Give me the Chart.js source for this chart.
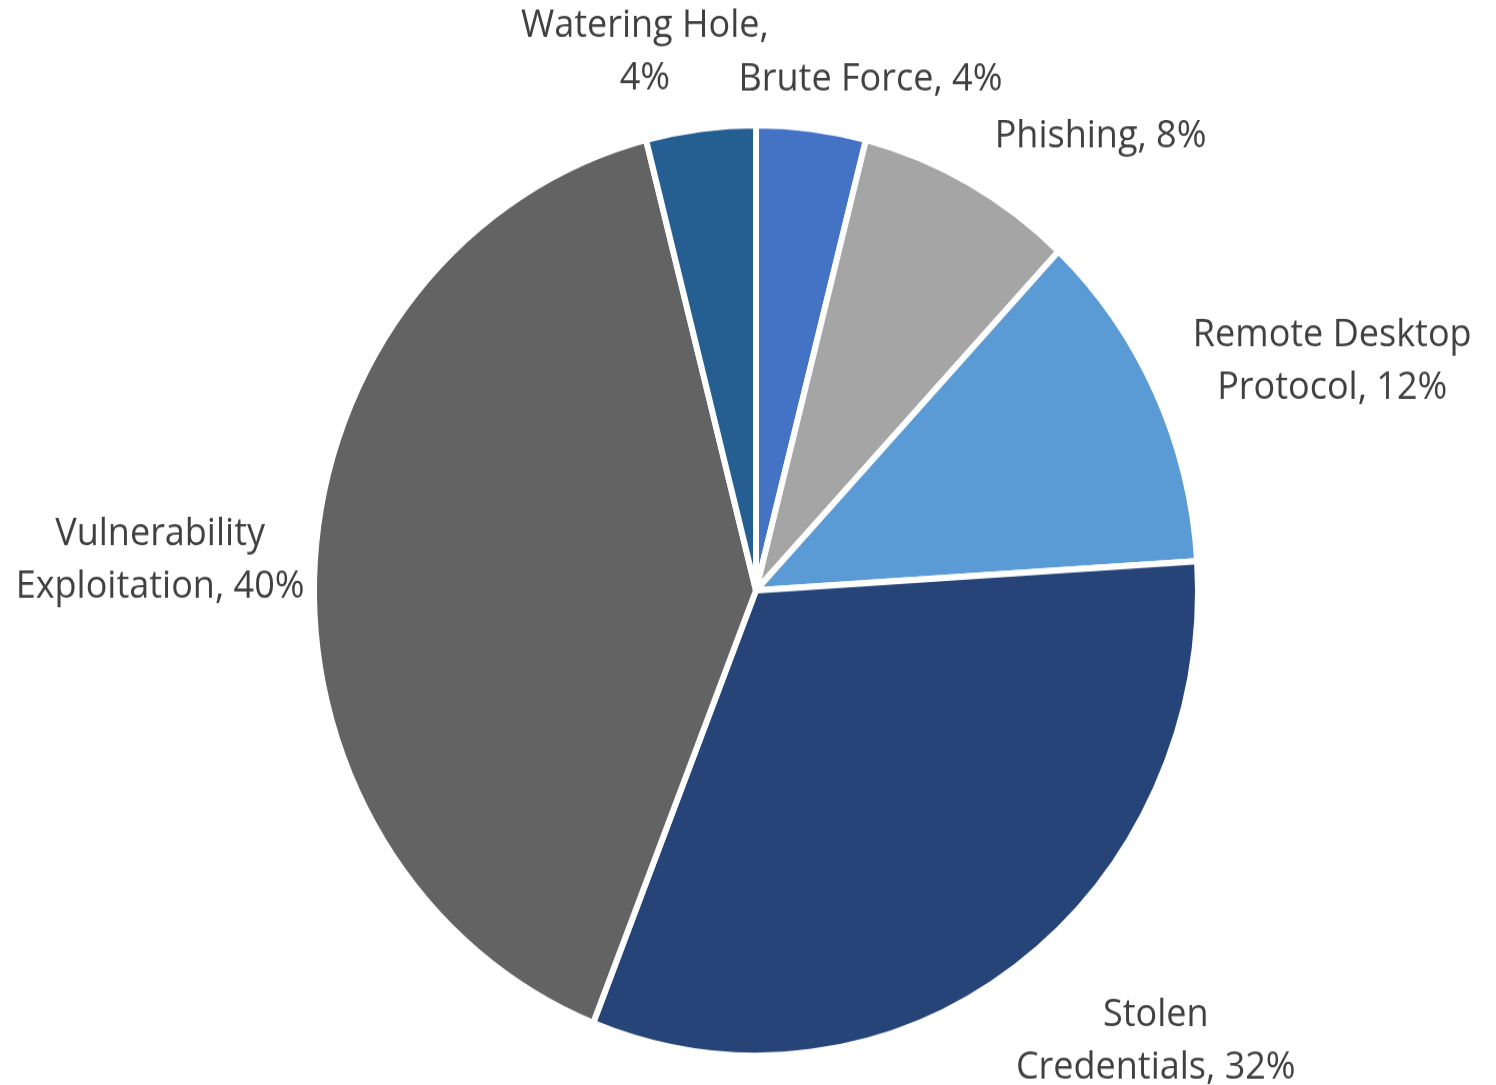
<!DOCTYPE html>
<html>
<head>
<meta charset="utf-8">
<script src="https://cdn.jsdelivr.net/npm/chart.js@4.4.0/dist/chart.umd.min.js"></script>
<style>
  html, body { margin: 0; padding: 0; background: #ffffff; }
  #vectorChart { display: block; }
</style>
</head>
<body>
<!-- source picture is a little stretched vertically, so the canvas is too -->
<canvas id="vectorChart" width="1496" height="1031" style="width:1496px;height:1085px;"></canvas>
<script>
// attack vectors, clockwise from 12 o'clock
const vectorNames = [
  "Brute Force",
  "Phishing",
  "Remote Desktop Protocol",
  "Stolen Credentials",
  "Vulnerability Exploitation",
  "Watering Hole"
];
const vectorShares = [4, 8, 12, 32, 40, 4];
// how each label is broken over lines, as in the picture
const labelLines = [
  ["Brute Force, 4%"],
  ["Phishing, 8%"],
  ["Remote Desktop", "Protocol, 12%"],
  ["Stolen", "Credentials, 32%"],
  ["Vulnerability", "Exploitation, 40%"],
  ["Watering Hole,", "4%"]
];
const sliceColors = ["#4472C4", "#A5A5A5", "#5B9BD5", "#264478", "#636363", "#255E91"];

// outside labels: [angle nudge in degrees, distance as part of the radius]
const labelPlace = [
  [6.0, 1.134],
  [9.6, 1.255],
  [4.25, 1.396],
  [-7.17, 1.322],
  [-0.62, 1.35],
  [-5.0, 1.19]
];

const outsideLabels = {
  id: "outsideLabels",
  afterDatasetsDraw(chart) {
    const ctx = chart.ctx;
    const arcs = chart.getDatasetMeta(0).data;
    ctx.save();
    ctx.fillStyle = "#404040";
    ctx.font = "36px 'Open Sans'";
    ctx.textAlign = "center";
    ctx.textBaseline = "middle";
    arcs.forEach((arc, i) => {
      const p = arc.getProps(["x", "y", "startAngle", "endAngle", "outerRadius"], true);
      const mid = (p.startAngle + p.endAngle) / 2 + labelPlace[i][0] * Math.PI / 180;
      const dist = p.outerRadius * labelPlace[i][1];
      const cx = p.x + Math.cos(mid) * dist;
      const cy = p.y + Math.sin(mid) * dist + 3;
      const lines = labelLines[i];
      const lh = 50;
      lines.forEach((t, k) => {
        ctx.fillText(t, cx, cy + (k - (lines.length - 1) / 2) * lh);
      });
    });
    ctx.restore();
  }
};

new Chart(document.getElementById("vectorChart").getContext("2d"), {
  type: "pie",
  data: {
    labels: vectorNames,
    datasets: [{
      data: vectorShares,
      backgroundColor: sliceColors,
      borderColor: "#ffffff",
      borderWidth: 6
    }]
  },
  options: {
    responsive: false,
    devicePixelRatio: 1,
    animation: false,
    layout: {
      padding: { left: 311, right: 295, top: 116, bottom: 25 }
    },
    plugins: {
      legend: { display: false },
      tooltip: { enabled: false }
    }
  },
  plugins: [outsideLabels]
});
</script>
</body>
</html>
